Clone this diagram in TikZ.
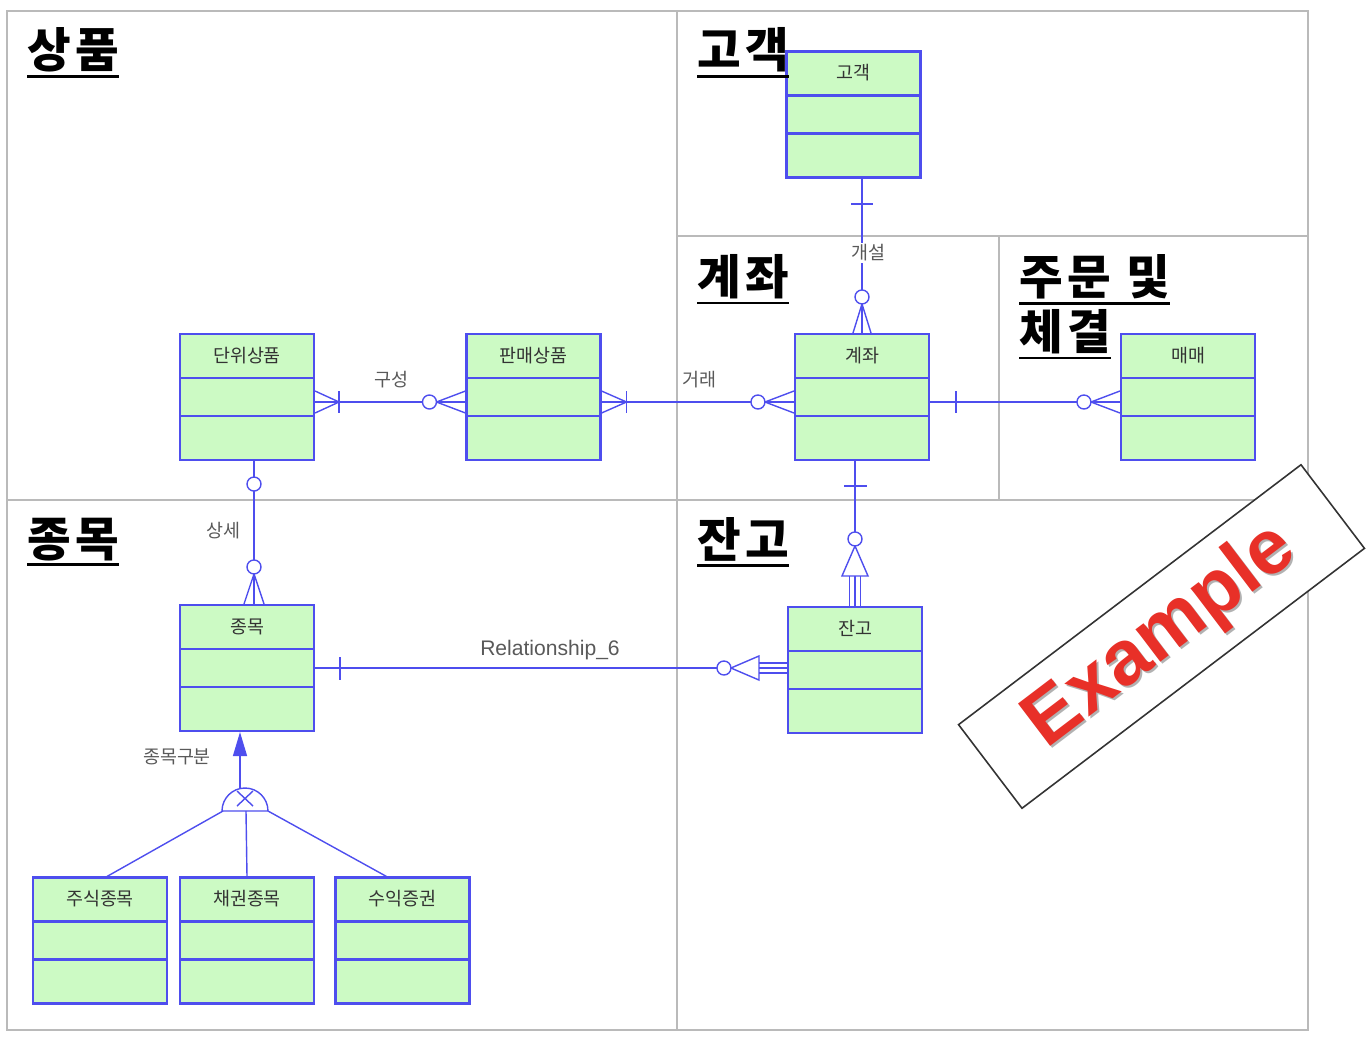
\documentclass[tikz,border=0pt]{standalone}
\usepackage{fontspec}
\setmainfont{Noto Sans CJK KR}
\newfontfamily\latinfont{Liberation Sans}
\usepackage{tikz}
\usetikzlibrary{calc,positioning,arrows.meta}
\definecolor{erblue}{RGB}{78,78,238}
\definecolor{ergreen}{RGB}{204,250,196}
\definecolor{stampred}{RGB}{232,48,40}
\tikzstyle{area}=[draw=black!27, line width=1.1pt]

\begin{document}
\begin{tikzpicture}[x=0.02cm,y=-0.02cm,
  entity/.style={rectangle,draw=erblue,fill=ergreen,line width=1.2pt,minimum width=2.68cm,inner xsep=0pt,inner ysep=0pt,
    text height=0.56cm,text depth=1.96cm,text=black!80,font=\fontsize{10.5}{12}\selectfont,
    path picture={\draw[erblue,line width=1.2pt]
      ([yshift=-0.88cm]path picture bounding box.north west) -- ([yshift=-0.88cm]path picture bounding box.north east)
      ([yshift=-1.64cm]path picture bounding box.north west) -- ([yshift=-1.64cm]path picture bounding box.north east);}},
  rel/.style={draw=erblue,line width=0.8pt},
  ring/.style={rel,fill=white},
  rlabel/.style={text=black!65,font=\fontsize{10.5}{12}\selectfont,inner sep=1pt},
  title/.style={anchor=north west,inner xsep=0pt,inner ysep=2pt,
    font=\fontsize{27}{30}\selectfont\bfseries\addfontfeatures{LetterSpace=9},
    append after command={(\tikzlastnode.south west) edge[line width=1.4pt] (\tikzlastnode.south east)}}]
\useasboundingbox (0,0) rectangle (1366,1046);

% subject areas
\draw[area] (7,11) rectangle (1308,1030);
\draw[area] (677,11) -- (677,1030);
\draw[area] (677,236) -- (1308,236);
\draw[area] (999,236) -- (999,500);
\draw[area] (7,500) -- (1308,500);

% entities
\node[entity] (gogaek) at (853.5,114.5) {고객};
\node[entity] (danwi) at (247,397) {단위상품};
\node[entity] (panmae) at (533.5,397) {판매상품};
\node[entity] (gyejwa) at (862,397) {계좌};
\node[entity] (maemae) at (1188,397) {매매};
\node[entity] (jongmok) at (247,668) {종목};
\node[entity] (janko) at (855,670) {잔고};
\node[entity] (jusik) at (100,940.5) {주식종목};
\node[entity] (chaekwon) at (247,940.5) {채권종목};
\node[entity] (suik) at (402.5,940.5) {수익증권};
\coordinate (gen) at (245,811);

% 개설
\draw[rel] (gogaek.south -| gyejwa.north) -- (gyejwa.north);
\node[rlabel,fill=white] (lgaeseol) at ($(gyejwa.north)+(6,-80)$) {개설};
\begin{scope}[shift={(gyejwa.north)}]
\draw[rel] (-11,-129) -- (11,-129);
\draw[rel] (-9,0) -- (0,-29) -- (9,0);
\draw[ring] (0,-36) circle[radius=0.14cm];
\end{scope}

% 구성
\draw[rel] ($(danwi.east)+(0,5)$) -- ($(panmae.west)+(0,5)$);
\node[rlabel] (lguseong) at (391,380) {구성};
\begin{scope}[shift={(danwi.east)}]
\draw[rel] (0,-6) -- (24,5) -- (0,16);
\draw[rel] (24,-6) -- (24,16);
\end{scope}
\begin{scope}[shift={(panmae.west)}]
\draw[rel] (0,-6) -- (-29,5) -- (0,16);
\draw[ring] (-36,5) circle[radius=0.14cm];
\end{scope}

% 거래
\draw[rel] ($(panmae.east)+(0,5)$) -- ($(gyejwa.west)+(0,5)$);
\node[rlabel] (lgeorae) at (699,380) {거래};
\begin{scope}[shift={(panmae.east)}]
\draw[rel] (0,-6) -- (25,5) -- (0,16);
\draw[rel] (25,-6) -- (25,16);
\end{scope}
\begin{scope}[shift={(gyejwa.west)}]
\draw[rel] (0,-6) -- (-29,5) -- (0,16);
\draw[ring] (-36,5) circle[radius=0.14cm];
\end{scope}

% 계좌 - 매매
\draw[rel] ($(gyejwa.east)+(0,5)$) -- ($(maemae.west)+(0,5)$);
\draw[rel] ($(gyejwa.east)+(26,-6)$) -- ($(gyejwa.east)+(26,16)$);
\begin{scope}[shift={(maemae.west)}]
\draw[rel] (0,-6) -- (-29,5) -- (0,16);
\draw[ring] (-36,5) circle[radius=0.14cm];
\end{scope}

% 상세
\draw[rel] ($(danwi.south)+(7,0)$) -- ($(jongmok.north)+(7,0)$);
\draw[ring] ($(danwi.south)+(7,23)$) circle[radius=0.14cm];
\node[rlabel] (lsangse) at (223,531) {상세};
\begin{scope}[shift={(jongmok.north)}]
\draw[rel] (-3,0) -- (7,-30) -- (17,0);
\draw[ring] (7,-37) circle[radius=0.14cm];
\end{scope}

% Relationship_6
\draw[rel] (jongmok.east) -- (jongmok.east -| janko.west);
\draw[rel] ($(jongmok.east)+(25,-11)$) -- ($(jongmok.east)+(25,12)$);
\node[rlabel,font=\latinfont\fontsize{12}{14}\selectfont] (lrel6) at (550,650) {Relationship\_6};
\begin{scope}[shift={(jongmok.east -| janko.west)}]
\draw[rel] (-28,-5) -- (0,-5) (-28,5) -- (0,5);
\draw[ring] (-28,-12) -- (-56,0) -- (-28,12) -- cycle;
\draw[ring] (-63,0) circle[radius=0.14cm];
\end{scope}

% 계좌 - 잔고
\draw[rel] (gyejwa.south -| janko.north) -- (janko.north);
\draw[rel] ($(gyejwa.south -| janko.north)+(-11,25)$) -- ($(gyejwa.south -| janko.north)+(12,25)$);
\begin{scope}[shift={(janko.north)}]
\draw[rel] (-5.5,-30) -- (-5.5,0) (5.5,-30) -- (5.5,0);
\draw[ring] (-13,-30) -- (0,-60) -- (13,-30) -- cycle;
\draw[ring] (0,-67) circle[radius=0.14cm];
\end{scope}

% 종목구분
\draw[rel,-{Triangle[length=0.48cm,width=0.28cm]}] ($(gen)+(-5,-22)$) -- ($(jongmok.south)+(-7,0)$);
\draw[ring] ($(gen)+(-23,0)$) arc[start angle=180,end angle=0,radius=0.46cm] -- cycle;
\draw[rel] ($(gen)+(-8,-20)$) -- ($(gen)+(8,-5)$) ($(gen)+(8,-20)$) -- ($(gen)+(-8,-5)$);
\draw[rel] ($(gen)+(-22,0)$) -- ($(jusik.north)+(7,0)$);
\draw[rel] ($(gen)+(1,0)$) -- (chaekwon.north);
\draw[rel] ($(gen)+(23,0)$) -- ($(suik.north)+(-16,0)$);
\node[rlabel] (lgubun) at (177,757) {종목구분};

% area titles
\node[title] (tsangpum) at (27,24) {상품};
\node[title] (tgogaek) at (697,24) {고객};
\node[title] (tgyejwa) at (697,251) {계좌};
\node[title] (tjumun) at (1019,251) {주문 및};
\node[title] (tchegyeol) at (1019,306) {체결};
\node[title] (tjongmok) at (27,514) {종목};
\node[title] (tjanko) at (697,514) {잔고};

% stamp
\node[draw=black!80,fill=white,line width=0.9pt,rotate=37.2,minimum width=8.6cm,minimum height=2.1cm] (stamp) at (1161.5,636.5) {};
\node[rotate=37.2,text=black!30,font=\latinfont\bfseries\fontsize{44}{48}\selectfont] (stampshade) at (1163.5,639) {Example};
\node[rotate=37.2,text=stampred,font=\latinfont\bfseries\fontsize{44}{48}\selectfont] (stamptext) at (1161.5,637) {Example};
\end{tikzpicture}
\end{document}
